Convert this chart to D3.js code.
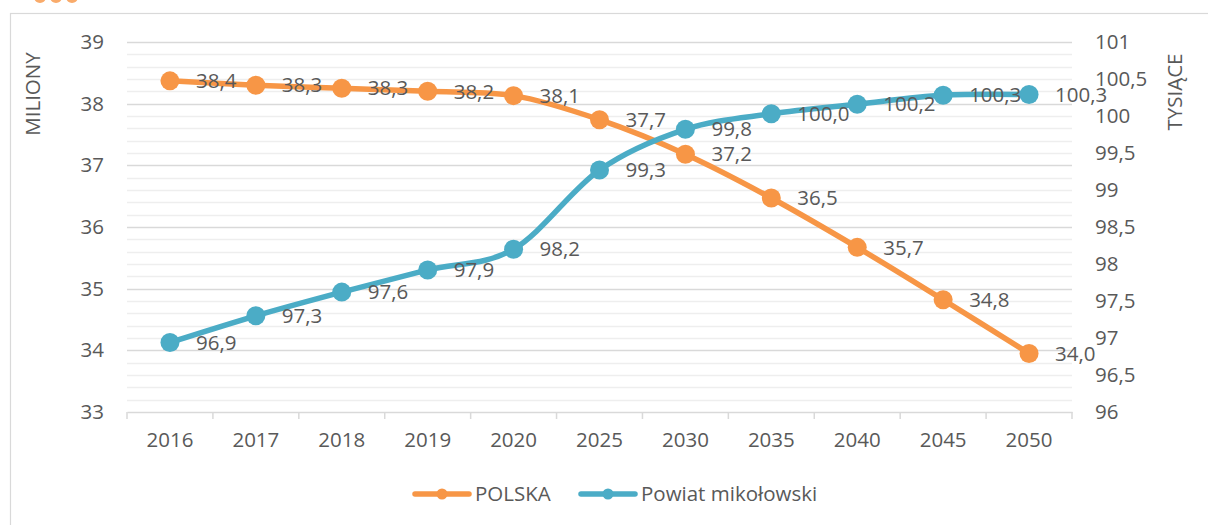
<!DOCTYPE html>
<html><head><meta charset="utf-8">
<script src="https://cdn.jsdelivr.net/npm/d3@7"></script>
<style>
html,body{margin:0;padding:0;background:#fff;}
svg text{font-family:"Open Sans",sans-serif;fill:#595959;}
</style></head>
<body>
<svg id="c" width="1208" height="525"></svg>
<script>
const categories = ["2016","2017","2018","2019","2020","2025","2030","2035","2040","2045","2050"];
const polskaValues = [38.37,38.30,38.25,38.20,38.13,37.74,37.18,36.47,35.67,34.82,33.95];
const polskaLabels = ["38,4","38,3","38,3","38,2","38,1","37,7","37,2","36,5","35,7","34,8","34,0"];
const powiatValues = [96.94,97.30,97.62,97.92,98.20,99.27,99.82,100.03,100.16,100.28,100.29];
const powiatLabels = ["96,9","97,3","97,6","97,9","98,2","99,3","99,8","100,0","100,2","100,3","100,3"];
const leftTicks = [33,34,35,36,37,38,39];
const rightTicks = [96,96.5,97,97.5,98,98.5,99,99.5,100,100.5,101];
const seriesNames = ["POLSKA","Powiat mikołowski"];
const colors = ["#F79646","#4BACC6"];

const FS = "20.5px";
const svg = d3.select("#c");
const L = 127, R = 1072, T = 42, B = 412;

// frame + decorative top
svg.append("rect").attr("x",10.5).attr("y",13.5).attr("width",1210).attr("height",530)
  .attr("fill","none").attr("stroke","#d9d9d9").attr("stroke-width",1.2);
[40,56,72].forEach(cx=>svg.append("circle").attr("cx",cx).attr("cy",-3).attr("r",6).attr("fill","#F79646").attr("opacity",0.8));

const x = d3.scaleBand().domain(categories).range([L,R]);
const yL = d3.scaleLinear().domain([33,39]).range([B,T]);
const yR = d3.scaleLinear().domain([96,101]).range([B,T]);

// minor gridlines
const minor = d3.range(33,39.001,0.2).filter(v=>Math.abs(v-Math.round(v))>1e-6);
svg.append("g").selectAll("line").data(minor).join("line")
  .attr("x1",L).attr("x2",R).attr("y1",d=>Math.round(yL(d))+0.5).attr("y2",d=>Math.round(yL(d))+0.5)
  .attr("stroke","#eeeeee").attr("stroke-width",1.5);
// major gridlines
svg.append("g").selectAll("line").data(leftTicks.slice(1)).join("line")
  .attr("x1",L).attr("x2",R).attr("y1",d=>Math.round(yL(d))+0.5).attr("y2",d=>Math.round(yL(d))+0.5)
  .attr("stroke","#d9d9d9").attr("stroke-width",1.5);

// x axis
const xAxis = d3.axisBottom(x).tickSize(0).tickPadding(20);
const gx = svg.append("g").attr("transform",`translate(0,${B})`).call(xAxis);
gx.select(".domain").attr("stroke","#d9d9d9").attr("stroke-width",1.5);
gx.selectAll("text").style("font-size",FS).attr("fill","#595959").attr("font-family","Open Sans");
// category boundary ticks
const bounds = categories.map(c=>x(c)).concat([R]);
svg.append("g").selectAll("line").data(bounds).join("line")
  .attr("x1",d=>d).attr("x2",d=>d).attr("y1",B).attr("y2",B+7)
  .attr("stroke","#d9d9d9").attr("stroke-width",1.5);

// left axis
const gl = svg.append("g").attr("transform",`translate(${L},0)`)
  .call(d3.axisLeft(yL).tickValues(leftTicks).tickSize(0).tickPadding(23).tickFormat(d=>d));
gl.select(".domain").remove();
gl.selectAll("text").style("font-size",FS).attr("fill","#595959").attr("font-family","Open Sans");

// right axis
const fmtR = d=>String(d).replace(".",",");
const gr = svg.append("g").attr("transform",`translate(${R},0)`)
  .call(d3.axisRight(yR).tickValues(rightTicks).tickSize(0).tickPadding(23).tickFormat(fmtR));
gr.select(".domain").remove();
gr.selectAll("text").style("font-size",FS).attr("fill","#595959").attr("font-family","Open Sans");

// axis titles
svg.append("text").attr("transform","translate(40,94) rotate(-90)").attr("text-anchor","middle")
  .style("font-size",FS).text("MILIONY");
svg.append("text").attr("transform","translate(1182,92) rotate(-90)").attr("text-anchor","middle")
  .style("font-size",FS).text("TYSIĄCE");

const cx = c=>x(c)+x.bandwidth()/2;
function drawSeries(vals, labels, ys, color){
  const pts = vals.map((v,i)=>[cx(categories[i]), ys(v)]);
  const line = d3.line().curve(d3.curveCardinal.tension(0));
  svg.append("path").attr("d",line(pts)).attr("fill","none").attr("stroke",color)
    .attr("stroke-width",5.5).attr("stroke-linejoin","round").attr("stroke-linecap","round");
  svg.append("g").selectAll("circle").data(pts).join("circle")
    .attr("cx",d=>d[0]).attr("cy",d=>d[1]).attr("r",9.5).attr("fill",color);
  return pts;
}
const p1 = drawSeries(polskaValues, polskaLabels, yL, colors[0]);
const p2 = drawSeries(powiatValues, powiatLabels, yR, colors[1]);
// labels
function drawLabels(pts, labels){
  svg.append("g").selectAll("text").data(pts).join("text")
    .attr("x",d=>d[0]+26).attr("y",d=>d[1]).attr("dy","0.35em")
    .style("font-size",FS).text((d,i)=>labels[i]);
}
drawLabels(p1, polskaLabels);
drawLabels(p2, powiatLabels);

// legend
const leg = [{x:413, name:seriesNames[0], color:colors[0]},{x:579, name:seriesNames[1], color:colors[1]}];
leg.forEach(l=>{
  const g = svg.append("g");
  g.append("line").attr("x1",l.x+2).attr("x2",l.x+56).attr("y1",494).attr("y2",494)
    .attr("stroke",l.color).attr("stroke-width",5.5).attr("stroke-linecap","round");
  g.append("circle").attr("cx",l.x+29).attr("cy",494).attr("r",5.5).attr("fill",l.color);
  g.append("text").attr("x",l.x+62).attr("y",494).attr("dy","0.35em").style("font-size",FS).text(l.name);
});
</script>
</body></html>
